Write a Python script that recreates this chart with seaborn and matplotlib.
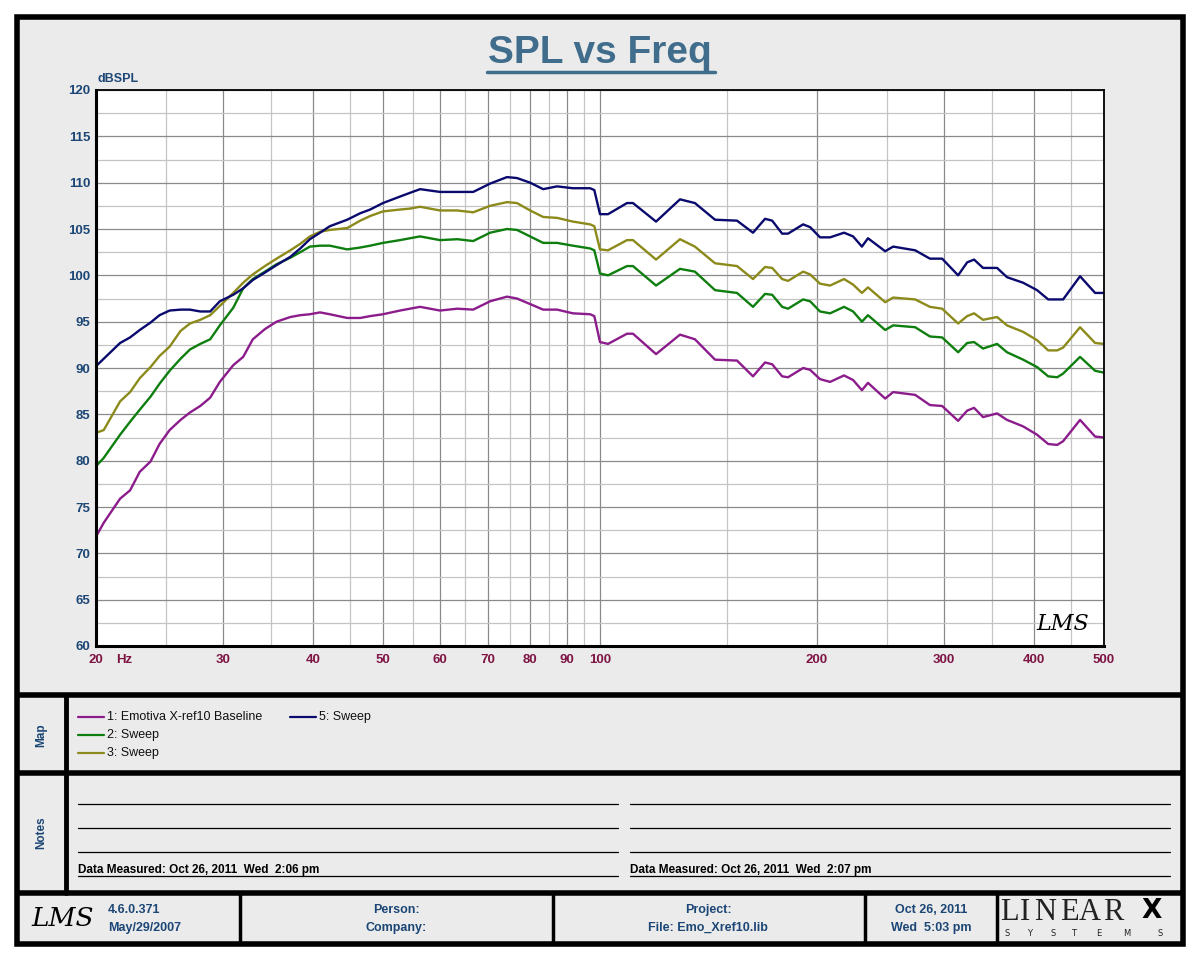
import matplotlib
matplotlib.use('Agg')
import matplotlib.pyplot as plt
import matplotlib.ticker as mticker
from matplotlib import font_manager
from matplotlib.patches import Rectangle
import pandas as pd
import seaborn as sns

# frequency points (Hz)
freq_hz = [20.0, 20.5, 21.6, 22.3, 23.0, 23.8, 24.5, 25.3, 26.2, 27.0,
           27.9, 28.8, 29.7, 31.0, 32.0, 33.0, 34.3, 35.6, 37.2, 38.4,
           39.6, 40.9, 42.2, 44.6, 46.5, 48.0, 50.0, 52.8, 54.5, 56.3,
           60.0, 63.4, 66.7, 70.4, 74.3, 76.7, 80.0, 83.4, 87.2, 91.7,
           96.9, 98.2, 100.0, 102.6, 109.0, 111.1, 119.6, 129.1, 135.4, 144.4,
           154.9, 163.0, 169.4, 173.3, 178.9, 182.3, 191.3, 195.6, 201.9, 208.5,
           218.0, 224.4, 230.8, 235.3, 248.6, 255.0, 273.6, 286.8, 298.2, 313.8,
           323.0, 330.2, 339.8, 355.4, 366.8, 386.2, 403.8, 418.4, 430.6, 438.8,
           463.2, 486.0, 500.0]

spl_baseline = [71.8, 73.3, 75.9, 76.8, 78.8, 79.9, 81.8, 83.3, 84.4, 85.2,
                85.9, 86.8, 88.5, 90.3, 91.2, 93.1, 94.2, 95.0, 95.5, 95.7,
                95.8, 96.0, 95.8, 95.4, 95.4, 95.6, 95.8, 96.2, 96.4, 96.6,
                96.2, 96.4, 96.3, 97.2, 97.7, 97.5, 96.9, 96.3, 96.3, 95.9,
                95.8, 95.6, 92.8, 92.6, 93.7, 93.7, 91.5, 93.6, 93.1, 90.9,
                90.8, 89.1, 90.6, 90.4, 89.1, 89.0, 90.0, 89.8, 88.8, 88.5,
                89.2, 88.7, 87.6, 88.4, 86.7, 87.4, 87.1, 86.0, 85.9, 84.3,
                85.4, 85.7, 84.7, 85.1, 84.4, 83.7, 82.8, 81.8, 81.7, 82.1,
                84.4, 82.6, 82.5]

spl_sweep2 = [79.4, 80.3, 82.8, 84.2, 85.5, 86.9, 88.3, 89.7, 91.0, 92.0,
              92.6, 93.1, 94.6, 96.5, 98.6, 99.6, 100.4, 101.2, 101.9, 102.5,
              103.1, 103.2, 103.2, 102.8, 103.0, 103.2, 103.5, 103.8, 104.0, 104.2,
              103.8, 103.9, 103.7, 104.6, 105.0, 104.9, 104.2, 103.5, 103.5, 103.2,
              102.9, 102.7, 100.2, 100.0, 101.0, 101.0, 98.9, 100.7, 100.4, 98.4,
              98.1, 96.6, 98.0, 97.9, 96.6, 96.4, 97.4, 97.2, 96.1, 95.9,
              96.6, 96.1, 95.0, 95.7, 94.1, 94.6, 94.4, 93.4, 93.3, 91.7,
              92.7, 92.8, 92.1, 92.6, 91.7, 90.9, 90.1, 89.1, 89.0, 89.4,
              91.2, 89.7, 89.5]

spl_sweep3 = [83.0, 83.3, 86.4, 87.4, 88.9, 90.1, 91.3, 92.3, 94.0, 94.8,
              95.2, 95.7, 96.7, 98.1, 99.2, 100.1, 101.0, 101.8, 102.7, 103.4,
              104.2, 104.7, 104.9, 105.1, 105.9, 106.4, 106.9, 107.1, 107.2, 107.4,
              107.0, 107.0, 106.8, 107.5, 107.9, 107.8, 107.0, 106.3, 106.2, 105.8,
              105.5, 105.3, 102.8, 102.7, 103.8, 103.8, 101.7, 103.9, 103.1, 101.3,
              101.0, 99.6, 100.9, 100.8, 99.6, 99.4, 100.4, 100.1, 99.1, 98.9,
              99.6, 99.0, 98.1, 98.7, 97.1, 97.6, 97.4, 96.6, 96.4, 94.8,
              95.6, 95.9, 95.2, 95.5, 94.6, 93.9, 93.0, 91.9, 91.9, 92.2,
              94.4, 92.7, 92.6]

spl_sweep5 = [90.2, 91.0, 92.7, 93.3, 94.1, 94.9, 95.7, 96.2, 96.3, 96.3,
              96.1, 96.1, 97.2, 97.9, 98.6, 99.5, 100.3, 101.1, 102.0, 102.9,
              103.9, 104.6, 105.3, 106.0, 106.7, 107.1, 107.8, 108.5, 108.9, 109.3,
              109.0, 109.0, 109.0, 109.9, 110.6, 110.5, 110.0, 109.3, 109.6, 109.4,
              109.4, 109.2, 106.6, 106.6, 107.8, 107.8, 105.8, 108.2, 107.8, 106.0,
              105.9, 104.6, 106.1, 105.9, 104.5, 104.5, 105.5, 105.2, 104.1, 104.1,
              104.6, 104.2, 103.1, 104.0, 102.6, 103.1, 102.7, 101.8, 101.8, 100.0,
              101.4, 101.7, 100.8, 100.8, 99.8, 99.2, 98.4, 97.4, 97.4, 97.4,
              99.9, 98.1, 98.1]

series_names = ['1: Emotiva X-ref10 Baseline', '2: Sweep', '3: Sweep', '5: Sweep']
series_colors = ['#8C1C8C', '#0E7E0E', '#8C8A1A', '#0A0A6E']

x_major = [20, 30, 40, 50, 60, 70, 80, 90, 100, 200, 300, 400, 500]
x_minor = [25, 35, 45, 55, 65, 75, 85, 95, 150, 250, 350, 450]
y_ticks = [60, 65, 70, 75, 80, 85, 90, 95, 100, 105, 110, 115, 120]

notes_left = 'Data Measured: Oct 26, 2011  Wed  2:06 pm'
notes_right = 'Data Measured: Oct 26, 2011  Wed  2:07 pm'

# long-form table for seaborn
df = pd.concat([pd.DataFrame({'freq': freq_hz, 'spl': vals, 'series': name})
                for name, vals in zip(series_names,
                                      [spl_baseline, spl_sweep2, spl_sweep3, spl_sweep5])])

sns.set_theme(style='white')
installed = {f.name for f in font_manager.fontManager.ttflist}
narrow = 'Liberation Sans Narrow' if 'Liberation Sans Narrow' in installed else 'Liberation Sans'
plt.rcParams['font.family'] = ['Liberation Sans', 'DejaVu Sans']

BLUE_TXT = '#1C4675'
RED_TXT = '#7E1444'

fig = plt.figure(figsize=(12, 9.6), dpi=100)

# page background drawn in pixel coordinates
bg = fig.add_axes([0, 0, 1, 1])
bg.set_xlim(0, 1200)
bg.set_ylim(960, 0)
bg.axis('off')
bg.add_patch(Rectangle((17, 17), 1166, 927, facecolor='#EBEBEB', edgecolor='black', lw=4))
for yy in [695, 773, 893]:
    bg.plot([17, 1183], [yy, yy], color='black', lw=4, solid_capstyle='butt')
bg.plot([66, 66], [695, 893], color='black', lw=3.5)
for xx in [240, 553, 865, 997]:
    bg.plot([xx, xx], [893, 944], color='black', lw=2.5)

# title
bg.text(600, 53, 'SPL vs Freq', ha='center', va='center', fontsize=28,
        fontweight='bold', color='#416D8C')
bg.plot([487, 715], [72, 72], color='#416D8C', lw=2.5)
bg.text(97, 79, 'dBSPL', ha='left', va='center', fontsize=9, fontweight='bold',
        color=BLUE_TXT, family=narrow)
bg.text(116, 660, 'Hz', ha='left', va='center', fontsize=9.5, fontweight='bold',
        color=RED_TXT, family=narrow)

# side labels
bg.text(41, 735, 'Map', rotation=90, ha='center', va='center', fontsize=8.5,
        fontweight='bold', color=BLUE_TXT)
bg.text(41, 833, 'Notes', rotation=90, ha='center', va='center', fontsize=8.5,
        fontweight='bold', color=BLUE_TXT)

# map (legend)
legend_slots = [(78, 717), (78, 735), (78, 753), (290, 717)]
for (lx, ly), name, col in zip(legend_slots, series_names, series_colors):
    bg.plot([lx, lx + 26], [ly, ly], color=col, lw=1.6)
    bg.text(lx + 29, ly, name, ha='left', va='center', fontsize=9, color='#111111')

# notes
for yy in [804, 828, 852, 876]:
    bg.plot([78, 618], [yy, yy], color='black', lw=0.9)
    bg.plot([630, 1170], [yy, yy], color='black', lw=0.9)
bg.text(78, 870, notes_left, ha='left', va='center', fontsize=8.5,
        fontweight='bold', color='black', family=narrow)
bg.text(630, 870, notes_right, ha='left', va='center', fontsize=8.5,
        fontweight='bold', color='black', family=narrow)

# footer
foot = dict(fontsize=9, fontweight='bold', color=BLUE_TXT, family=narrow, va='center')
bg.text(63, 918, 'LMS', ha='center', va='center', fontsize=19, fontstyle='italic',
        color='black', family='DejaVu Serif')
bg.text(108, 910, '4.6.0.371', ha='left', **foot)
bg.text(108, 928, 'May/29/2007', ha='left', **foot)
bg.text(396, 910, 'Person:', ha='center', **foot)
bg.text(396, 928, 'Company:', ha='center', **foot)
bg.text(708, 910, 'Project:', ha='center', **foot)
bg.text(708, 928, 'File: Emo_Xref10.lib', ha='center', **foot)
bg.text(931, 910, 'Oct 26, 2011', ha='center', **foot)
bg.text(931, 928, 'Wed  5:03 pm', ha='center', **foot)
for lx, ch in zip([1009, 1025, 1045, 1069, 1090, 1113], 'LINEAR'):
    bg.text(lx, 912, ch, ha='center', va='center', fontsize=22, color='#222222',
            family='Liberation Serif')
bg.text(1152, 911, 'X', ha='center', va='center', fontsize=19, color='black',
        fontweight='heavy', family='DejaVu Sans')
for lx, ch in zip([1007, 1030, 1053, 1074, 1099, 1127, 1160], 'SYSTEMS'):
    bg.text(lx, 934, ch, ha='center', va='center', fontsize=6, color='#222222',
            family='DejaVu Sans')

# plot area
ax = fig.add_axes([96 / 1200, 1 - 646 / 960, 1008 / 1200, 556 / 960])
ax.set_facecolor('white')
sns.lineplot(data=df, x='freq', y='spl', hue='series', palette=series_colors,
             hue_order=series_names, estimator=None, legend=False, lw=1.7, ax=ax)
ax.set_xscale('log')
ax.set_xlim(20, 500)
ax.set_ylim(60, 120)
ax.xaxis.set_major_locator(mticker.FixedLocator(x_major))
ax.xaxis.set_major_formatter(mticker.FixedFormatter([str(v) for v in x_major]))
ax.xaxis.set_minor_locator(mticker.FixedLocator(x_minor))
ax.xaxis.set_minor_formatter(mticker.NullFormatter())
ax.yaxis.set_major_locator(mticker.FixedLocator(y_ticks))
ax.yaxis.set_minor_locator(mticker.MultipleLocator(2.5))
ax.grid(which='major', color='#8A8A8A', lw=0.9)
ax.grid(which='minor', color='#C4C4C4', lw=0.9)
ax.set_axisbelow(True)
ax.tick_params(which='both', length=0)
ax.tick_params(axis='x', pad=6, colors=RED_TXT, labelsize=9.5)
ax.tick_params(axis='y', pad=4, colors=BLUE_TXT, labelsize=9.5)
for lab in ax.get_xticklabels() + ax.get_yticklabels():
    lab.set_fontweight('bold')
    lab.set_family(narrow)
ax.set_xlabel('')
ax.set_ylabel('')
for side, w in [('left', 2.2), ('bottom', 2.2), ('top', 1.3), ('right', 1.3)]:
    ax.spines[side].set_color('black')
    ax.spines[side].set_linewidth(w)
ax.text(0.985, 0.02, 'LMS', transform=ax.transAxes, ha='right', va='bottom',
        fontsize=16, fontstyle='italic', color='black', family='DejaVu Serif')

fig.savefig('out.png', dpi=100, facecolor='white')
